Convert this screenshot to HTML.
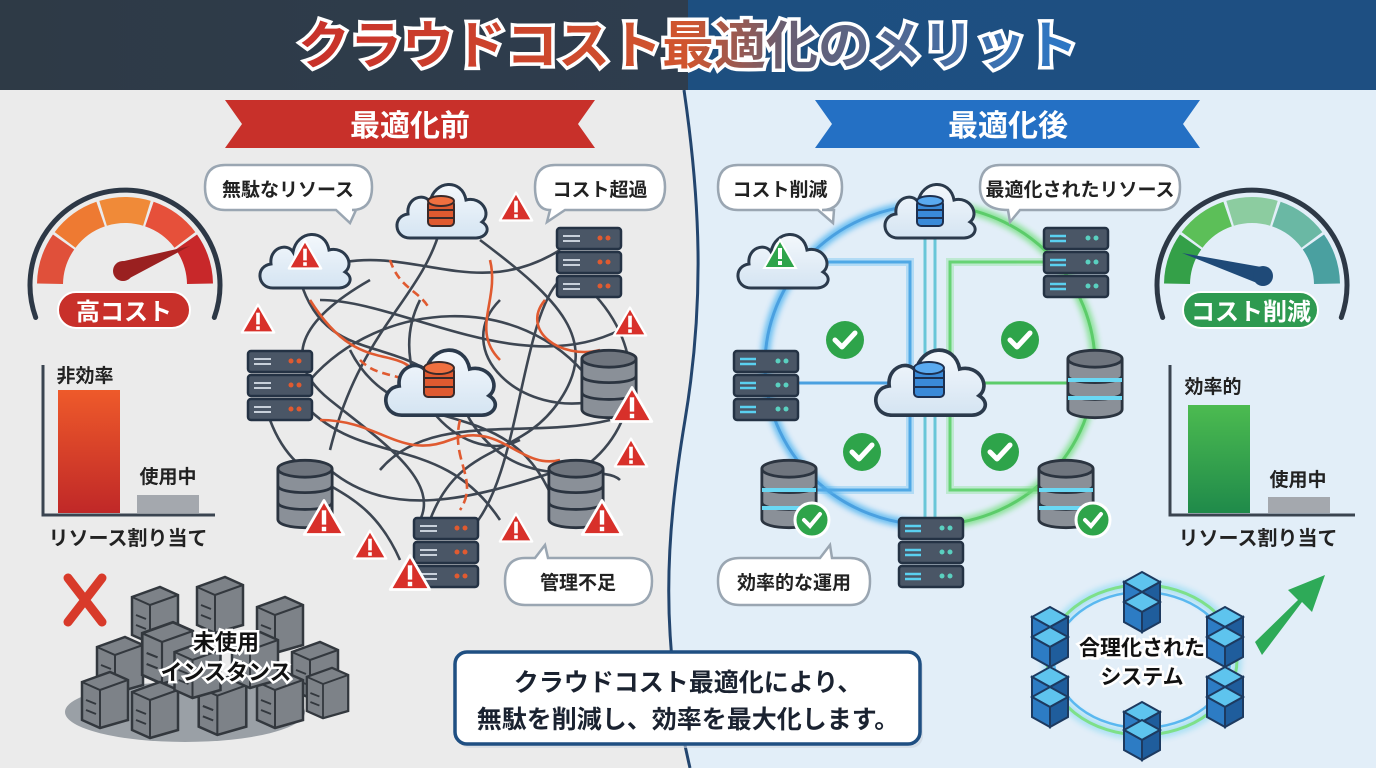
<!DOCTYPE html>
<html><head><meta charset="utf-8"><style>
html,body{margin:0;padding:0;width:1376px;height:768px;overflow:hidden;background:#ececec}
svg{display:block}
text{font-family:"Liberation Sans","Noto Sans CJK JP",sans-serif;font-weight:bold}
</style></head><body>
<svg width="1376" height="768" viewBox="0 0 1376 768" xmlns="http://www.w3.org/2000/svg">
<defs>
<linearGradient id="tg" x1="0" x2="1"><stop offset="0" stop-color="#c8302a"/><stop offset="0.5" stop-color="#d0552e"/><stop offset="0.62" stop-color="#6a5e70"/><stop offset="1" stop-color="#2a78c8"/></linearGradient>
<linearGradient id="hdr" x1="0" x2="1"><stop offset="0" stop-color="#2e3a46"/><stop offset="0.5" stop-color="#2e3d4e"/><stop offset="0.5" stop-color="#1d4f80"/><stop offset="1" stop-color="#1e4f82"/></linearGradient>
<linearGradient id="rb" x1="0" x2="0" y1="0" y2="1"><stop offset="0" stop-color="#ee5a2a"/><stop offset="1" stop-color="#c02828"/></linearGradient>
<linearGradient id="gb" x1="0" x2="0" y1="0" y2="1"><stop offset="0" stop-color="#4cbb50"/><stop offset="1" stop-color="#1f8a4a"/></linearGradient>
<linearGradient id="cl" x1="0" x2="0" y1="0" y2="1"><stop offset="0" stop-color="#f4f8fc"/><stop offset="1" stop-color="#d4e4f2"/></linearGradient>
<symbol id="cloud" viewBox="0 0 100 70" overflow="visible">
<path d="M18 66 C2 66 0 44 16 42 C14 26 32 20 38 30 C42 8 70 6 74 28 C90 24 100 42 90 50 C100 56 94 66 84 66 Z" fill="url(#cl)" stroke="#2b3a4c" stroke-width="3"/>
</symbol>
<symbol id="srv" viewBox="0 0 66 72" overflow="visible">
<g stroke="#243244" stroke-width="2.5">
<rect x="1" y="1" width="64" height="21" rx="3" fill="#4a5666"/>
<rect x="1" y="25" width="64" height="21" rx="3" fill="#4a5666"/>
<rect x="1" y="49" width="64" height="21" rx="3" fill="#4a5666"/>
</g>
</symbol>
<symbol id="db" viewBox="0 0 62 74" overflow="visible">
<path d="M2 10 V64 C2 76 60 76 60 64 V10" fill="#8a9098" stroke="#2b3440" stroke-width="3"/>
<ellipse cx="31" cy="10" rx="29" ry="9" fill="#6f757e" stroke="#2b3440" stroke-width="3"/>
<path d="M2 28 C2 38 60 38 60 28 M2 46 C2 56 60 56 60 46" fill="none" stroke="#2b3440" stroke-width="3"/>
</symbol>
<symbol id="warn" viewBox="0 0 40 36" overflow="visible">
<path d="M20 2 L38 33 L2 33 Z" fill="#d8302a" stroke="#fff" stroke-width="2.5" stroke-linejoin="round"/>
<rect x="18" y="11" width="4" height="13" fill="#fff"/><rect x="18" y="26" width="4" height="4" fill="#fff"/>
</symbol>
<symbol id="chk" viewBox="0 0 40 40" overflow="visible">
<circle cx="20" cy="20" r="19" fill="#2ea44a"/>
<path d="M10 20 L17 27 L30 13" fill="none" stroke="#fff" stroke-width="5" stroke-linecap="round" stroke-linejoin="round"/>
</symbol>
<symbol id="cube" viewBox="0 0 40 44" overflow="visible">
<path d="M20 2 L38 12 L20 22 L2 12 Z" fill="#5ec4ee" stroke="#1d3a60" stroke-width="2"/>
<path d="M2 12 L20 22 L20 42 L2 32 Z" fill="#2d7cc4" stroke="#1d3a60" stroke-width="2"/>
<path d="M38 12 L20 22 L20 42 L38 32 Z" fill="#1f5d9c" stroke="#1d3a60" stroke-width="2"/>
</symbol>
<symbol id="gbox" viewBox="0 0 50 60" overflow="visible">
<path d="M2 12 L30 2 L48 10 L48 50 L20 58 L2 50 Z" fill="#7d8288" stroke="#33383e" stroke-width="2.5"/>
<path d="M2 12 L20 20 L48 10 M20 20 L20 58" fill="none" stroke="#33383e" stroke-width="2"/>
<path d="M6 30 L16 34 M6 40 L16 44" stroke="#33383e" stroke-width="2"/>
</symbol>
<filter id="glow"><feGaussianBlur stdDeviation="3"/></filter>
</defs>

<rect width="1376" height="768" fill="#ebebeb"/>
<path d="M684 90 C700 200 705 300 685 420 C665 540 660 640 690 768 L1376 768 L1376 90 Z" fill="#e2eef8"/>
<path d="M684 90 C700 200 705 300 685 420 C665 540 660 640 690 768" fill="none" stroke="#23456e" stroke-width="3"/>
<rect width="1376" height="90" fill="url(#hdr)"/>
<text x="688" y="64" text-anchor="middle" font-size="52" fill="url(#tg)" stroke="#fff" stroke-width="7" paint-order="stroke">クラウドコスト最適化のメリット</text>

<polygon points="225,100 595,100 578,124 595,148 225,148 242,124" fill="#c8302a"/>
<text x="410" y="136" text-anchor="middle" font-size="30" fill="#fff">最適化前</text>
<polygon points="815,100 1200,100 1183,124 1200,148 815,148 832,124" fill="#2470c4"/>
<text x="1008" y="136" text-anchor="middle" font-size="30" fill="#fff">最適化後</text>

<g>
<path d="M35.7 317.5 A95 95 0 1 1 214.3 317.5" fill="none" stroke="#2d3846" stroke-width="5" stroke-linecap="round"/>
<g fill="none" stroke-width="26">
<path d="M50 283.7 A75 75 0 0 1 63.6 242" stroke="#e0503a"/>
<path d="M65.1 239.9 A75 75 0 0 1 100.6 214.1" stroke="#ee7a32"/>
<path d="M103.1 213.3 A75 75 0 0 1 146.9 213.3" stroke="#f08a38"/>
<path d="M149.4 214.1 A75 75 0 0 1 184.9 239.9" stroke="#e6503a"/>
<path d="M186.4 242 A75 75 0 0 1 200 283.7" stroke="#c8282a"/>
</g>
<path d="M120 262 L190 246 L126 280 Z" fill="#9a2020"/><circle cx="123" cy="271" r="10" fill="#9a2020"/>
<rect x="58" y="292" width="132" height="36" rx="18" fill="#c8302a" stroke="#fff" stroke-width="2"/>
<text x="124" y="320" text-anchor="middle" font-size="24" fill="#fff">高コスト</text>
</g>
<path d="M43 365 V515 H215" fill="none" stroke="#3a4450" stroke-width="3"/>
<rect x="58" y="390" width="62" height="123" fill="url(#rb)"/>
<rect x="137" y="495" width="62" height="18" fill="#a4a8ae"/>
<text x="85" y="382" text-anchor="middle" font-size="19" fill="#222">非効率</text>
<text x="168" y="483" text-anchor="middle" font-size="19" fill="#222">使用中</text>
<text x="128" y="545" text-anchor="middle" font-size="20" fill="#222">リソース割り当て</text>

<path d="M68 578 L102 622 M102 578 L68 622" stroke="#d83a2a" stroke-width="9" stroke-linecap="round"/>
<ellipse cx="185" cy="712" rx="120" ry="30" fill="#9aa0a6"/>
<use href="#gbox" x="130" y="585" width="50" height="60"/>
<use href="#gbox" x="195" y="575" width="50" height="60"/>
<use href="#gbox" x="255" y="595" width="50" height="60"/>
<use href="#gbox" x="95" y="635" width="50" height="60"/>
<use href="#gbox" x="140" y="620" width="55" height="66"/>
<use href="#gbox" x="290" y="640" width="50" height="60"/>
<use href="#gbox" x="80" y="670" width="50" height="60"/>
<use href="#gbox" x="130" y="680" width="50" height="60"/>
<use href="#gbox" x="195" y="675" width="55" height="62"/>
<use href="#gbox" x="255" y="670" width="50" height="60"/>
<use href="#gbox" x="305" y="665" width="45" height="56"/>
<use href="#gbox" x="170" y="640" width="55" height="60"/>
<use href="#gbox" x="230" y="630" width="50" height="60"/>
<text x="226" y="650" text-anchor="middle" font-size="22" fill="#111" stroke="#fff" stroke-width="5" paint-order="stroke">未使用</text>
<text x="226" y="680" text-anchor="middle" font-size="22" fill="#111" stroke="#fff" stroke-width="5" paint-order="stroke">インスタンス</text>

<g fill="none" stroke="#3d4652" stroke-width="2.6">
<path d="M345 262 C420 250 480 300 560 250"/>
<path d="M300 280 C330 380 420 320 470 420 C520 500 600 460 620 480"/>
<path d="M310 380 C380 300 520 290 590 380"/>
<path d="M300 400 C360 470 440 430 500 520"/>
<path d="M440 230 C420 300 360 330 330 450"/>
<path d="M480 240 C560 300 600 340 560 400 C520 460 460 440 430 520"/>
<path d="M330 470 C390 520 470 500 560 470"/>
<path d="M270 420 C300 500 360 470 400 560"/>
<path d="M590 290 C650 350 640 430 580 470"/>
<path d="M370 280 C300 320 280 360 330 400 C380 440 440 480 420 520"/>
<path d="M500 300 C450 350 520 420 600 400"/>
<path d="M350 350 C400 450 520 380 560 520"/>
<path d="M320 300 C400 300 520 380 620 330"/>
<path d="M380 470 C430 410 530 440 610 420"/>
<path d="M420 300 C380 380 460 470 520 440"/>
<path d="M560 280 C520 320 520 480 470 530"/>
</g>
<g fill="none" stroke="#e05a30" stroke-width="2.6">
<path d="M310 300 C360 380 400 340 420 380" />
<path d="M490 260 C500 300 470 330 500 360"/>
<path d="M320 420 C380 420 400 460 450 440 C500 420 520 470 560 460"/>
<path d="M545 300 C520 330 560 360 600 350"/>
<path d="M460 420 C450 460 480 480 460 510" stroke-dasharray="10 5"/>
<path d="M360 360 C380 380 400 370 420 390" stroke-dasharray="8 5"/>
<path d="M390 260 C400 290 420 290 430 310" stroke-dasharray="8 5"/>
</g>

<use href="#cloud" x="255" y="222" width="100" height="70"/>
<use href="#warn" x="287" y="238" width="36" height="34"/>
<use href="#cloud" x="392" y="172" width="100" height="70"/>
<g transform="translate(428,196)"><rect x="0" y="4" width="26" height="26" rx="4" fill="#e05a30" stroke="#3a2a2a" stroke-width="2"/><ellipse cx="13" cy="5" rx="13" ry="5" fill="#f07040" stroke="#3a2a2a" stroke-width="2"/><path d="M0 14 H26 M0 22 H26" stroke="#3a2a2a" stroke-width="2"/></g>
<use href="#cloud" x="378" y="335" width="125" height="85"/>
<g transform="translate(424,362)"><rect x="0" y="5" width="30" height="30" rx="4" fill="#e05a30" stroke="#3a2a2a" stroke-width="2"/><ellipse cx="15" cy="6" rx="15" ry="6" fill="#f07040" stroke="#3a2a2a" stroke-width="2"/><path d="M0 16 H30 M0 25 H30" stroke="#3a2a2a" stroke-width="2"/></g>

<g>
<use href="#srv" x="556" y="227" width="66" height="72"/>
<use href="#srv" x="247" y="350" width="66" height="72"/>
<use href="#srv" x="413" y="517" width="66" height="72"/>
</g>
<g fill="#e05a30">
<circle cx="600" cy="238" r="2.5"/><circle cx="608" cy="238" r="2.5"/><circle cx="600" cy="262" r="2.5"/><circle cx="608" cy="262" r="2.5"/><circle cx="600" cy="286" r="2.5"/><circle cx="608" cy="286" r="2.5"/>
<circle cx="291" cy="361" r="2.5"/><circle cx="299" cy="361" r="2.5"/><circle cx="291" cy="385" r="2.5"/><circle cx="299" cy="385" r="2.5"/><circle cx="291" cy="409" r="2.5"/><circle cx="299" cy="409" r="2.5"/>
<circle cx="457" cy="528" r="2.5"/><circle cx="465" cy="528" r="2.5"/><circle cx="457" cy="552" r="2.5"/><circle cx="465" cy="552" r="2.5"/><circle cx="457" cy="576" r="2.5"/><circle cx="465" cy="576" r="2.5"/>
</g>
<g stroke="#c8d0da" stroke-width="2">
<path d="M563 236 H580 M563 241 H580 M563 260 H580 M563 265 H580 M563 284 H580 M563 289 H580"/>
<path d="M254 359 H271 M254 364 H271 M254 383 H271 M254 388 H271 M254 407 H271 M254 412 H271"/>
<path d="M420 526 H437 M420 531 H437 M420 550 H437 M420 555 H437 M420 574 H437 M420 579 H437"/>
</g>
<use href="#db" x="580" y="348" width="58" height="72"/>
<use href="#db" x="276" y="458" width="58" height="72"/>
<use href="#db" x="547" y="458" width="58" height="72"/>

<use href="#warn" x="240" y="302" width="36" height="34"/>
<use href="#warn" x="498" y="190" width="36" height="34"/>
<use href="#warn" x="612" y="305" width="36" height="34"/>
<use href="#warn" x="610" y="385" width="44" height="40"/>
<use href="#warn" x="613" y="436" width="36" height="34"/>
<use href="#warn" x="302" y="498" width="44" height="40"/>
<use href="#warn" x="580" y="498" width="44" height="40"/>
<use href="#warn" x="498" y="511" width="36" height="34"/>
<use href="#warn" x="352" y="528" width="36" height="34"/>
<use href="#warn" x="388" y="553" width="44" height="40"/>

<g fill="#fff" stroke="#9aa6b2" stroke-width="2.5">
<path d="M225 165 H352 Q372 165 372 187 Q372 210 352 210 H356 L350 223 L336 210 H225 Q205 210 205 187 Q205 165 225 165 Z"/>
<path d="M555 165 H645 Q665 165 665 187 Q665 210 645 210 H565 L547 222 L550 210 Q535 210 535 187 Q535 165 555 165 Z"/>
<path d="M525 558 H535 L545 545 L548 558 H630 Q652 558 652 581 Q652 605 630 605 H525 Q505 605 505 581 Q505 558 525 558 Z"/>
</g>
<text x="288" y="196" text-anchor="middle" font-size="19" fill="#222">無駄なリソース</text>
<text x="600" y="196" text-anchor="middle" font-size="19" fill="#222">コスト超過</text>
<text x="578" y="589" text-anchor="middle" font-size="19" fill="#222">管理不足</text>

<g fill="none" filter="url(#glow)" opacity="0.9">
<path d="M930 205 A165 160 0 0 0 930 525" stroke="#5ab8f0" stroke-width="9"/>
<path d="M930 205 A165 160 0 0 1 930 525" stroke="#7ee08a" stroke-width="9"/>
</g>
<g fill="none" stroke-width="3">
<path d="M930 205 A165 160 0 0 0 930 525" stroke="#4aa0e0"/>
<path d="M930 205 A165 160 0 0 1 930 525" stroke="#5ccc6a"/>
<path d="M925 230 V525 M935 230 V525" stroke="#6ac6d8"/>
<path d="M800 262 H910 V490 H800 M780 383 H910" stroke="#4aa0e0"/>
<path d="M1060 262 H950 V490 H1060 M950 383 H1080" stroke="#5ccc6a"/>
</g>
<g fill="none" stroke-width="8" opacity="0.35"><path d="M800 262 H910 V490 H800" stroke="#5ab8f0"/><path d="M1060 262 H950 V490 H1060" stroke="#7ee08a"/></g>

<use href="#cloud" x="733" y="222" width="100" height="70"/>
<path d="M780 240 L796 268 L764 268 Z" fill="#2ea44a" stroke="#fff" stroke-width="2"/><rect x="778" y="248" width="4" height="11" fill="#fff"/><rect x="778" y="261" width="4" height="4" fill="#fff"/>
<use href="#cloud" x="880" y="172" width="100" height="70"/>
<g transform="translate(917,196)"><rect x="0" y="4" width="26" height="26" rx="4" fill="#3a8ad8" stroke="#1d3050" stroke-width="2"/><ellipse cx="13" cy="5" rx="13" ry="5" fill="#5aaaf0" stroke="#1d3050" stroke-width="2"/><path d="M0 14 H26 M0 22 H26" stroke="#1d3050" stroke-width="2"/></g>
<use href="#cloud" x="868" y="335" width="125" height="85"/>
<g transform="translate(914,362)"><rect x="0" y="5" width="30" height="30" rx="4" fill="#3a8ad8" stroke="#1d3050" stroke-width="2"/><ellipse cx="15" cy="6" rx="15" ry="6" fill="#5aaaf0" stroke="#1d3050" stroke-width="2"/><path d="M0 16 H30 M0 25 H30" stroke="#1d3050" stroke-width="2"/></g>

<use href="#srv" x="1043" y="227" width="66" height="72"/>
<use href="#srv" x="733" y="350" width="66" height="72"/>
<use href="#srv" x="898" y="517" width="66" height="72"/>
<g stroke="#5ad0f0" stroke-width="2.5">
<path d="M1050 236 H1066 M1050 241 H1066 M1050 260 H1066 M1050 265 H1066 M1050 284 H1066 M1050 289 H1066"/>
<path d="M740 359 H756 M740 364 H756 M740 383 H756 M740 388 H756 M740 407 H756 M740 412 H756"/>
<path d="M905 526 H921 M905 531 H921 M905 550 H921 M905 555 H921 M905 574 H921 M905 579 H921"/>
</g>
<g fill="#5ad0c0">
<circle cx="1088" cy="238" r="2.5"/><circle cx="1096" cy="238" r="2.5"/><circle cx="1088" cy="262" r="2.5"/><circle cx="1096" cy="262" r="2.5"/><circle cx="1088" cy="286" r="2.5"/><circle cx="1096" cy="286" r="2.5"/>
<circle cx="778" cy="361" r="2.5"/><circle cx="786" cy="361" r="2.5"/><circle cx="778" cy="385" r="2.5"/><circle cx="786" cy="385" r="2.5"/><circle cx="778" cy="409" r="2.5"/><circle cx="786" cy="409" r="2.5"/>
<circle cx="942" cy="528" r="2.5"/><circle cx="950" cy="528" r="2.5"/><circle cx="942" cy="552" r="2.5"/><circle cx="950" cy="552" r="2.5"/><circle cx="942" cy="576" r="2.5"/><circle cx="950" cy="576" r="2.5"/>
</g>
<use href="#db" x="1066" y="348" width="58" height="72"/>
<use href="#db" x="760" y="458" width="58" height="72"/>
<use href="#db" x="1037" y="458" width="58" height="72"/>
<g stroke="#6ad8f4" stroke-width="4"><path d="M1068 380 H1122 M1068 398 H1122 M762 490 H816 M762 508 H816 M1039 490 H1093 M1039 508 H1093"/></g>
<use href="#chk" x="825" y="320" width="40" height="40"/>
<use href="#chk" x="1000" y="320" width="40" height="40"/>
<use href="#chk" x="842" y="432" width="40" height="40"/>
<use href="#chk" x="980" y="432" width="40" height="40"/>
<g stroke="#fff" stroke-width="3"><circle cx="812" cy="520" r="17" fill="#2ea44a"/><circle cx="1093" cy="520" r="17" fill="#2ea44a"/></g>
<path d="M804 520 L810 526 L820 514 M1085 520 L1091 526 L1101 514" fill="none" stroke="#fff" stroke-width="4" stroke-linecap="round"/>

<g fill="#fff" stroke="#9aa6b2" stroke-width="2.5">
<path d="M738 165 H822 Q842 165 842 187 Q842 210 822 210 H834 L833 223 L818 210 H738 Q718 210 718 187 Q718 165 738 165 Z"/>
<path d="M1000 165 H1160 Q1180 165 1180 187 Q1180 210 1160 210 H1020 L1010 222 L1008 210 Q980 210 980 187 Q980 165 1000 165 Z"/>
<path d="M740 558 H820 L830 545 L832 558 H850 Q870 558 870 581 Q870 605 850 605 H740 Q718 605 718 581 Q718 558 740 558 Z"/>
</g>
<text x="780" y="196" text-anchor="middle" font-size="19" fill="#222">コスト削減</text>
<text x="1080" y="196" text-anchor="middle" font-size="19" fill="#222">最適化されたリソース</text>
<text x="794" y="589" text-anchor="middle" font-size="19" fill="#222">効率的な運用</text>

<g transform="translate(1127,0)">
<path d="M35.7 317.5 A95 95 0 1 1 214.3 317.5" fill="none" stroke="#2d3846" stroke-width="5" stroke-linecap="round"/>
<g fill="none" stroke-width="26">
<path d="M50 283.7 A75 75 0 0 1 63.6 242" stroke="#34a048"/>
<path d="M65.1 239.9 A75 75 0 0 1 100.6 214.1" stroke="#5cbf58"/>
<path d="M103.1 213.3 A75 75 0 0 1 146.9 213.3" stroke="#8ccca0"/>
<path d="M149.4 214.1 A75 75 0 0 1 184.9 239.9" stroke="#6ab8a4"/>
<path d="M186.4 242 A75 75 0 0 1 200 283.7" stroke="#4aa0a0"/>
</g>
<path d="M55 253 L140 268 L130 283 Z" fill="#1f4a78"/><circle cx="136" cy="276" r="10" fill="#1f4a78"/>
<rect x="56" y="292" width="135" height="36" rx="18" fill="#2e9a50" stroke="#fff" stroke-width="2"/>
<text x="124" y="320" text-anchor="middle" font-size="24" fill="#fff">コスト削減</text>
</g>
<path d="M1170 365 V515 H1355" fill="none" stroke="#3a4450" stroke-width="3"/>
<rect x="1188" y="405" width="62" height="108" fill="url(#gb)"/>
<rect x="1268" y="497" width="62" height="16" fill="#a4a8ae"/>
<text x="1213" y="393" text-anchor="middle" font-size="19" fill="#222">効率的</text>
<text x="1298" y="486" text-anchor="middle" font-size="19" fill="#222">使用中</text>
<text x="1258" y="545" text-anchor="middle" font-size="20" fill="#222">リソース割り当て</text>

<ellipse cx="1142" cy="660" rx="95" ry="75" fill="none" stroke="#6ad0f0" stroke-width="10" opacity="0.45" filter="url(#glow)"/>
<ellipse cx="1142" cy="660" rx="95" ry="75" fill="none" stroke="#7ee08a" stroke-width="3"/>
<ellipse cx="1142" cy="660" rx="88" ry="68" fill="none" stroke="#5ab8f0" stroke-width="2.5"/>
<g>
<use href="#cube" x="1122" y="570" width="40" height="44"/><use href="#cube" x="1122" y="590" width="40" height="44"/>
<use href="#cube" x="1030" y="605" width="40" height="44"/><use href="#cube" x="1030" y="625" width="40" height="44"/>
<use href="#cube" x="1205" y="605" width="40" height="44"/><use href="#cube" x="1205" y="625" width="40" height="44"/>
<use href="#cube" x="1030" y="665" width="40" height="44"/><use href="#cube" x="1030" y="685" width="40" height="44"/>
<use href="#cube" x="1205" y="665" width="40" height="44"/><use href="#cube" x="1205" y="685" width="40" height="44"/>
<use href="#cube" x="1122" y="700" width="40" height="44"/><use href="#cube" x="1122" y="718" width="40" height="44"/>
</g>
<text x="1142" y="655" text-anchor="middle" font-size="21" fill="#111" stroke="#fff" stroke-width="5" paint-order="stroke">合理化された</text>
<text x="1142" y="684" text-anchor="middle" font-size="21" fill="#111" stroke="#fff" stroke-width="5" paint-order="stroke">システム</text>
<path d="M1255 642 L1298 600 L1288 590 L1325 575 L1312 612 L1302 602 L1262 655 Z" fill="#2eaa58"/>

<rect x="458" y="656" width="465" height="92" rx="12" fill="#cdd6e0" opacity="0.6"/>
<rect x="455" y="652" width="465" height="92" rx="12" fill="#fff" stroke="#1f4f82" stroke-width="3.5"/>
<text x="688" y="691" text-anchor="middle" font-size="25" fill="#1a2230">クラウドコスト最適化により、</text>
<text x="688" y="728" text-anchor="middle" font-size="25" fill="#1a2230">無駄を削減し、効率を最大化します。</text>
</svg>
</body></html>
